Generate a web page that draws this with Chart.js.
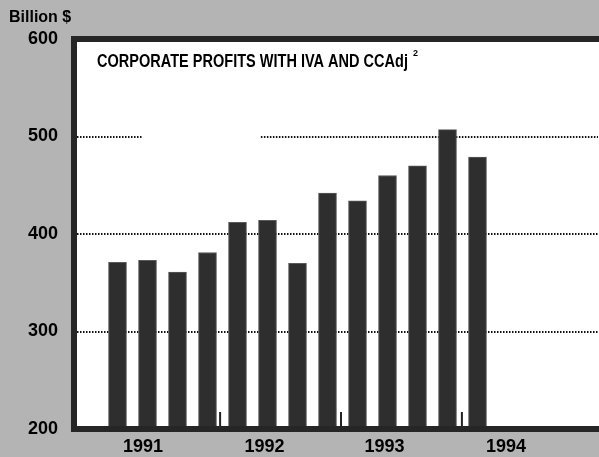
<!DOCTYPE html>
<html>
<head>
<meta charset="utf-8">
<script src="https://cdn.jsdelivr.net/npm/chart.js@4"></script>
<style>
  html, body { margin: 0; padding: 0; background: #b4b4b4; }
  canvas { display: block; }
</style>
</head>
<body>
<canvas id="chartProfits" width="599" height="457"></canvas>
<script>
// quarterly values, 1991 Q1 .. 1994 Q1
const quarters = ['1991 Q1', '1991 Q2', '1991 Q3', '1991 Q4',
                  '1992 Q1', '1992 Q2', '1992 Q3', '1992 Q4',
                  '1993 Q1', '1993 Q2', '1993 Q3', '1993 Q4',
                  '1994 Q1'];
const profits = [371, 373, 361, 381, 412, 414, 370, 442, 434, 460, 470, 507, 479];

const yearLabels = ['1991', '1992', '1993', '1994'];
const yearLabelPos = [0.85, 4.9, 8.9, 12.95];
const yearBreaks = [3.42, 7.45, 11.48];
const yTicks = [200, 300, 400, 500, 600];
const gridValues = [300, 400, 500];
const gridGaps = { 500: [0.85, 4.78] };

const titleText = 'CORPORATE PROFITS WITH IVA AND CCAdj';
const unitText = 'Billion $';

const mainFont = '"Liberation Sans", Arial, sans-serif';

const decor = {
    id: 'decor',
    beforeDraw(chart) {
        const { ctx, chartArea: a } = chart;
        ctx.save();
        ctx.fillStyle = '#b4b4b4';
        ctx.fillRect(0, 0, chart.width, chart.height);
        ctx.fillStyle = '#ffffff';
        ctx.fillRect(a.left, a.top, a.right - a.left, a.bottom - a.top);
        ctx.restore();
    },
    beforeDatasetsDraw(chart) {
        const { ctx, chartArea: a, scales: { x, y } } = chart;
        ctx.save();
        ctx.strokeStyle = '#111';
        ctx.lineWidth = 2;
        ctx.setLineDash([1.5, 1.5]);
        gridValues.forEach(v => {
            const py = Math.round(y.getPixelForValue(v));
            const gap = gridGaps[v];
            ctx.beginPath();
            if (gap) {
                ctx.moveTo(a.left, py);
                ctx.lineTo(x.getPixelForValue(gap[0]), py);
                ctx.moveTo(x.getPixelForValue(gap[1]), py);
                ctx.lineTo(a.right - 1, py);
            } else {
                ctx.moveTo(a.left, py);
                ctx.lineTo(a.right - 1, py);
            }
            ctx.stroke();
        });
        ctx.restore();
    },
    afterDatasetsDraw(chart) {
        const { ctx, chartArea: a, scales: { x } } = chart;
        ctx.save();
        // year break ticks
        ctx.strokeStyle = '#222';
        ctx.lineWidth = 2;
        yearBreaks.forEach(v => {
            const px = x.getPixelForValue(v);
            ctx.beginPath();
            ctx.moveTo(px, a.bottom);
            ctx.lineTo(px, a.bottom - 17);
            ctx.stroke();
        });
        // frame bands
        ctx.fillStyle = '#262626';
        ctx.fillRect(a.left - 3, a.top - 3, a.right - a.left + 3, 6);
        ctx.fillRect(a.left - 3, a.top - 3, 6, a.bottom - a.top + 6);
        ctx.fillRect(a.left - 3, a.bottom - 3, a.right - a.left + 3, 6);

        // texts
        ctx.fillStyle = '#000';
        ctx.textBaseline = 'middle';
        ctx.textAlign = 'left';
        ctx.font = 'bold 16px ' + mainFont;
        ctx.fillText(unitText, 9, 18);

        // condensed title
        ctx.font = 'bold 18px ' + mainFont;
        const w = ctx.measureText(titleText).width;
        const targetW = 311;
        ctx.save();
        ctx.translate(97, 62);
        ctx.scale(targetW / w, 1);
        ctx.fillText(titleText, 0, 0);
        ctx.restore();
        ctx.font = 'bold 9px ' + mainFont;
        ctx.fillText('2', 97 + targetW + 5, 54);
        ctx.restore();
    }
};

new Chart(document.getElementById('chartProfits'), {
    type: 'bar',
    data: {
        labels: quarters,
        datasets: [{
            label: 'Corporate profits',
            data: profits.map((v, i) => ({ x: i, y: v })),
            backgroundColor: '#2e2e2e',
            borderColor: '#5a5a5a',
            borderWidth: 1,
            barThickness: 18
        }]
    },
    options: {
        responsive: false,
        animation: false,
        devicePixelRatio: 1,
        layout: { padding: { top: 39, left: 0, right: 0, bottom: 0 } },
        plugins: {
            legend: { display: false },
            tooltip: { enabled: false }
        },
        scales: {
            x: {
                type: 'linear',
                min: -1.45,
                max: 16.05,
                offset: false,
                grid: { display: false, drawTicks: false },
                border: { display: false },
                afterFit: function (scale) { scale.height = 28; },
                afterBuildTicks: function (scale) {
                    scale.ticks = yearLabelPos.map(v => ({ value: v }));
                },
                ticks: {
                    autoSkip: false,
                    maxRotation: 0,
                    padding: 7,
                    color: '#000',
                    font: { family: mainFont, size: 18, weight: 'bold' },
                    callback: function (value, index) { return yearLabels[index]; }
                }
            },
            y: {
                min: 200,
                max: 600,
                grid: { display: false, drawTicks: false },
                border: { display: false },
                afterFit: function (scale) { scale.width = 74; },
                afterBuildTicks: function (scale) {
                    scale.ticks = yTicks.map(v => ({ value: v }));
                },
                ticks: {
                    padding: 16,
                    color: '#000',
                    font: { family: mainFont, size: 18, weight: 'bold' }
                }
            }
        }
    },
    plugins: [decor]
});
</script>
</body>
</html>
